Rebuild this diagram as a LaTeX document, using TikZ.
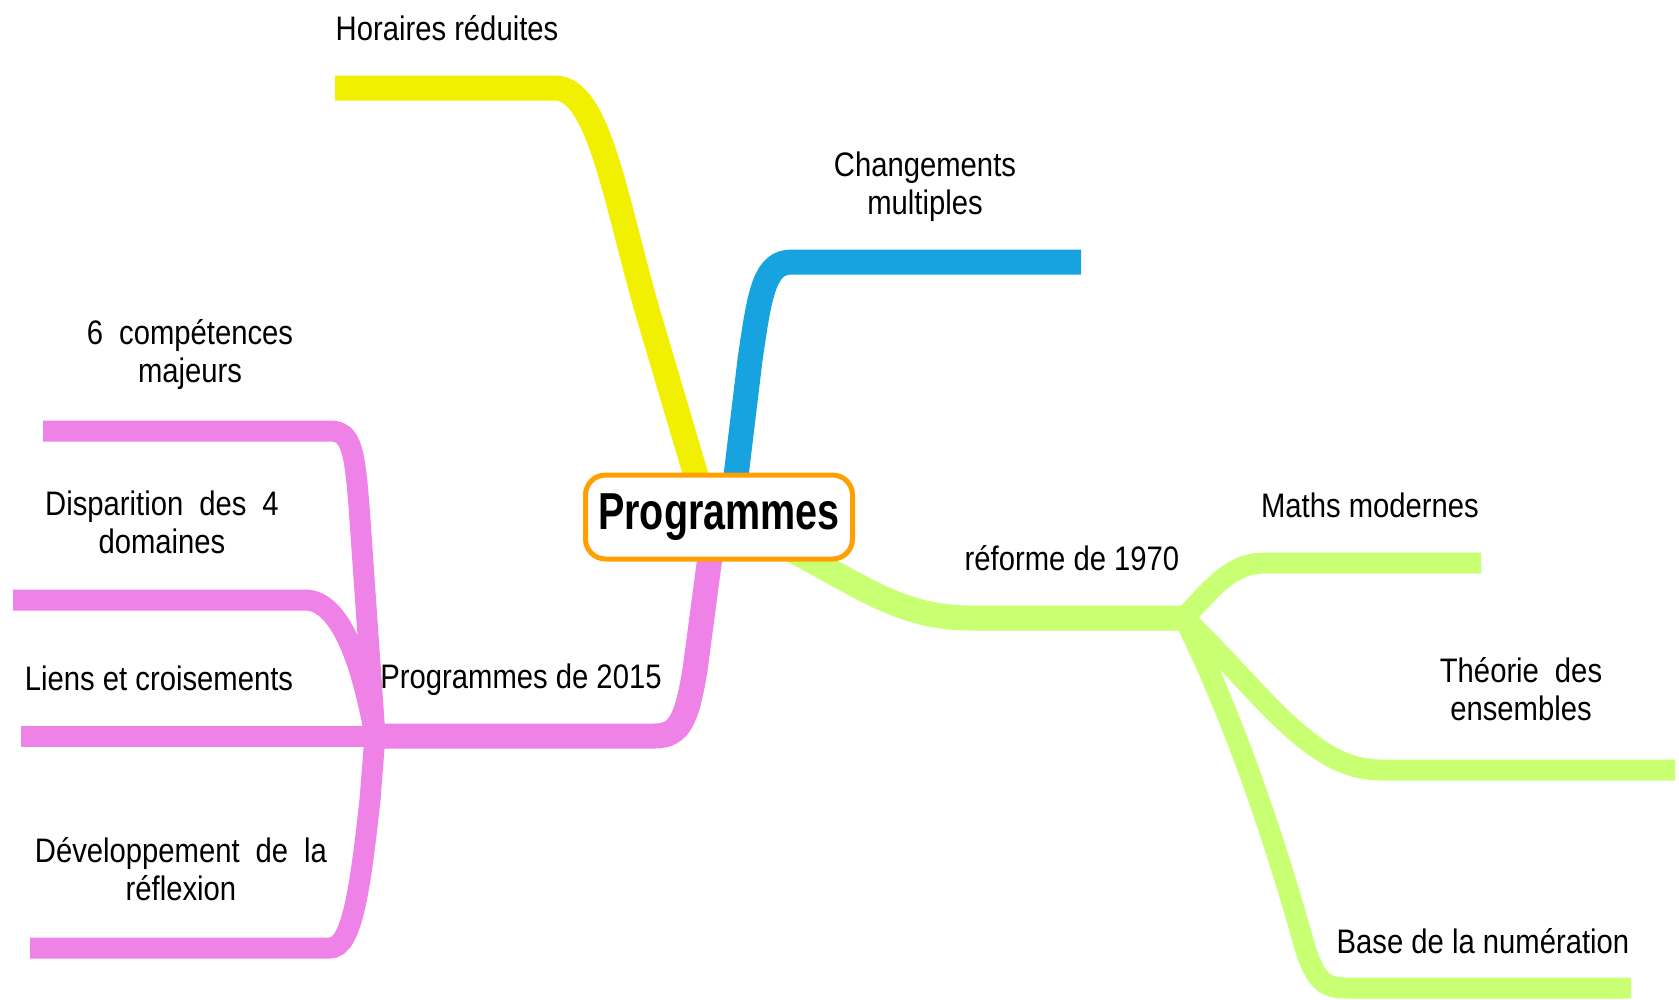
\documentclass[tikz,border=0pt]{standalone}
\usepackage{fontspec}
\setmainfont{Liberation Sans}[FakeStretch=0.86]
\newfontfamily\hubfont{Liberation Sans}[FakeStretch=0.76]
\usetikzlibrary{calc,backgrounds}
\definecolor{yel}{HTML}{F0F000}
\definecolor{blu}{HTML}{17A3DF}
\definecolor{pnk}{HTML}{EE82E6}
\definecolor{grn}{HTML}{C8FF73}
\definecolor{org}{HTML}{FFA000}
\newcommand{\wsp}{\hspace{16pt}}

\begin{document}
\begin{tikzpicture}[x=1pt,y=-1pt,
    branch/.style={line width=25pt},
    twig/.style={line width=21pt},
    lbl/.style={anchor=base,align=center,font=\fontsize{34}{38}\selectfont}]
    \useasboundingbox (0,0) rectangle (1679,999);

    % centre
    \node[draw=org,line width=5pt,fill=white,rounded corners=20pt,minimum width=267pt,minimum height=84pt,inner sep=0pt,
          font=\hubfont\bfseries\fontsize{52}{56}\selectfont] (prog) at (719,517) {Programmes};

    % free ends of the branches
    \coordinate (yelEnd) at (335,88);
    \coordinate (bluEnd) at (1081,262);
    \coordinate (pinkJn) at (375,736);
    \coordinate (compEnd) at (43,431);
    \coordinate (dispEnd) at (13,600);
    \coordinate (liensEnd) at (21,736);
    \coordinate (devEnd) at (30,948);
    \coordinate (grnJn) at (1184,618);
    \coordinate (mathsEnd) at (1481,563);
    \coordinate (theoEnd) at (1675,770);
    \coordinate (baseEnd) at (1631,988);

    \begin{scope}[on background layer]
        \draw[branch,yel] ($(prog.north)+(-18,20)$) -- (650,320) .. controls (616,205) and (600,88) .. (555,88) -- (yelEnd);
        \draw[branch,blu] ($(prog.north)+(15,20)$) -- (750,360) .. controls (760,290) and (765,262) .. (792,262) -- (bluEnd);
        \draw[branch,pnk] ($(prog.south)+(-7,-20)$) -- (695,670) .. controls (687,718) and (680,736) .. (655,736) -- (pinkJn);
        \draw[branch,grn] ($(prog.south east)+(-70,-15)$) .. controls (860,585) and (900,618) .. (970,618) -- (grnJn);

        % sub-branches
        \draw[twig,pnk] (pinkJn) -- (360,520) .. controls (355,450) and (352,431) .. (330,431) -- (compEnd);
        \draw[twig,pnk] (pinkJn) .. controls (365,680) and (345,600) .. (305,600) -- (dispEnd);
        \draw[twig,pnk] (pinkJn) -- (liensEnd);
        \draw[twig,pnk] (pinkJn) -- (370,800) .. controls (360,890) and (352,948) .. (330,948) -- (devEnd);
        \draw[twig,grn] (grnJn) .. controls (1215,585) and (1232,563) .. (1265,563) -- (mathsEnd);
        \draw[twig,grn] (grnJn) .. controls (1260,690) and (1310,770) .. (1380,770) -- (theoEnd);
        \draw[twig,grn] (grnJn) .. controls (1240,730) and (1280,860) .. (1300,930) .. controls (1312,975) and (1320,988) .. (1345,988) -- (baseEnd);
    \end{scope}

    % labels (base = last line)
    \node[lbl] (horaires) at (447,40) {Horaires réduites};
    \node[lbl] (changements) at (925,214) {Changements\\multiples};
    \node[lbl] (competences) at (190,382) {6\wsp compétences\\majeurs};
    \node[lbl] (disparition) at (162,553) {Disparition\wsp des\wsp 4\\domaines};
    \node[lbl] (liens) at (159,690) {Liens et croisements};
    \node[lbl] (developpement) at (181,900) {Développement\wsp de\wsp la\\réflexion};
    \node[lbl] (prog2015) at (521,688) {Programmes de 2015};
    \node[lbl] (reforme) at (1072,570) {réforme de 1970};
    \node[lbl] (maths) at (1370,517) {Maths modernes};
    \node[lbl] (theorie) at (1521,720) {Théorie\wsp des\\ensembles};
    \node[lbl] (base) at (1483,953) {Base de la numération};
\end{tikzpicture}
\end{document}
